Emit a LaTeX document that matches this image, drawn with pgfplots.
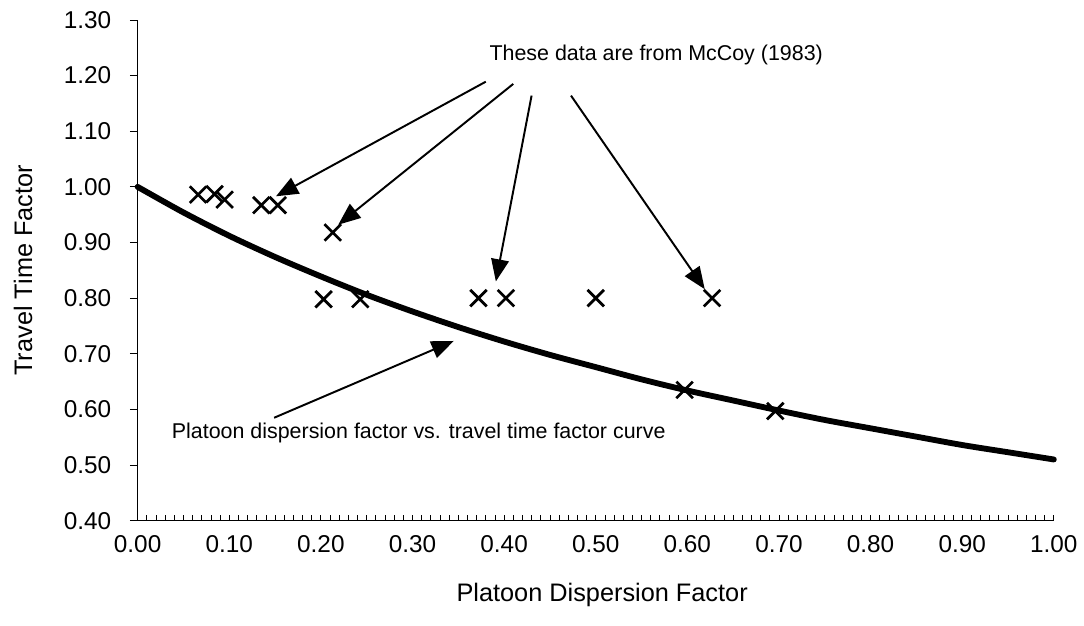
\documentclass[border=0pt]{standalone}
\usepackage{fontspec}
\setmainfont{Liberation Sans}
\usepackage{pgfplots}
\pgfplotsset{compat=1.18}
\usetikzlibrary{arrows.meta}
\begin{document}
\begin{tikzpicture}
\begin{axis}[
  scale only axis, width=16.54cm, height=9.04cm,
  xmin=0, xmax=1, ymin=0.4, ymax=1.3,
  axis x line=bottom, axis y line=left,
  axis line style={-, line width=0.6pt},
  xtick={0,0.1,0.2,0.3,0.4,0.5,0.6,0.7,0.8,0.9,1.0},
  ytick={0.4,0.5,0.6,0.7,0.8,0.9,1.0,1.1,1.2,1.3},
  minor x tick num=9,
  tick align=outside,
  major tick length=4pt, minor tick length=3pt,
  major x tick style={yshift=3pt, /pgfplots/major tick length=3pt},
  minor x tick style={yshift=3pt},
  tick style={black, line width=0.4pt},
  /pgf/number format/assume math mode=true,
  /pgf/number format/fixed,
  /pgf/number format/fixed zerofill,
  /pgf/number format/precision=2,
  ticklabel style={font=\fontsize{12.5}{14}\selectfont},
  yticklabel style={xshift=-6pt},
  xlabel={Platoon Dispersion Factor},
  ylabel={Travel Time Factor},
  label style={font=\fontsize{13}{15}\selectfont},
  xlabel style={at={(axis description cs:0.507,-0.149)}, anchor=center},
  ylabel style={at={(axis description cs:-0.125,0.5)}, anchor=center},
  clip=false,
]
\path (axis description cs:-0.1502,1.0398) rectangle (axis description cs:1.0294,-0.2092);
\addplot[black, line width=3pt, smooth, line cap=round] coordinates {
(0.00,1.000) (0.05,0.954) (0.10,0.912) (0.15,0.874) (0.20,0.839) (0.25,0.806)
(0.30,0.776) (0.35,0.748) (0.40,0.722) (0.45,0.698) (0.50,0.676) (0.55,0.654)
(0.60,0.634) (0.65,0.616) (0.70,0.598) (0.75,0.581) (0.80,0.566) (0.85,0.551)
(0.90,0.536) (0.95,0.523) (1.00,0.510)
};
\addplot[only marks, mark=x, mark size=6pt, line width=1.4pt, black] coordinates {
(0.066,0.986) (0.084,0.987) (0.095,0.977) (0.135,0.967) (0.153,0.967)
(0.213,0.918) (0.203,0.798) (0.243,0.798) (0.372,0.800) (0.402,0.800)
(0.500,0.800) (0.627,0.800) (0.597,0.635) (0.696,0.597)
};
\draw[-{Triangle[length=0.4cm,width=0.32cm]}, line width=1pt] (axis cs:0.380,1.189) -- (axis cs:0.151,0.983);
\draw[-{Triangle[length=0.4cm,width=0.32cm]}, line width=1pt] (axis cs:0.410,1.185) -- (axis cs:0.219,0.932);
\draw[-{Triangle[length=0.4cm,width=0.32cm]}, line width=1pt] (axis cs:0.430,1.164) -- (axis cs:0.391,0.830);
\draw[-{Triangle[length=0.4cm,width=0.32cm]}, line width=1pt] (axis cs:0.473,1.164) -- (axis cs:0.619,0.816);
\draw[-{Triangle[length=0.4cm,width=0.32cm]}, line width=1pt] (axis cs:0.149,0.585) -- (axis cs:0.345,0.723);
\node[font=\fontsize{11}{13}\selectfont] at (axis cs:0.566,1.237) {These data are from McCoy (1983)};
\node[anchor=west, font=\fontsize{11}{13}\selectfont, inner sep=0pt] at (axis cs:0.037,0.558) {Platoon dispersion factor vs. travel time factor curve};
\end{axis}
\end{tikzpicture}
\end{document}
